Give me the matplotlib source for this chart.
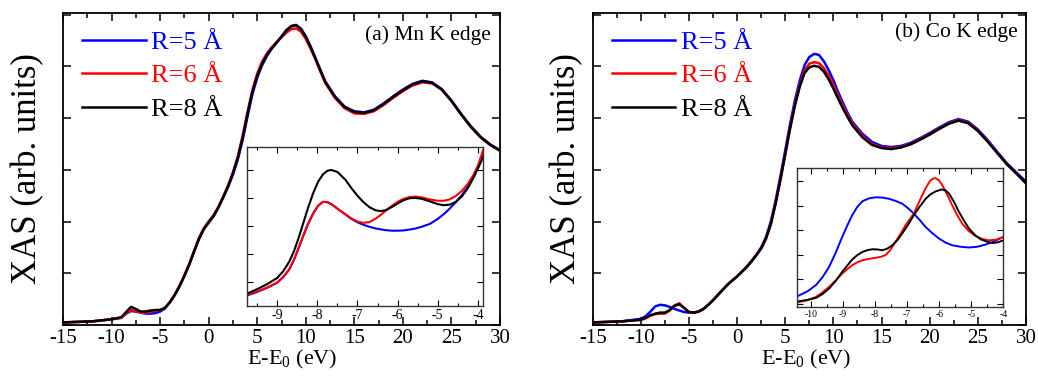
import numpy as np
import matplotlib
matplotlib.use("Agg")
import matplotlib.pyplot as plt
from matplotlib.ticker import MultipleLocator

plt.rcParams["font.family"] = ["Liberation Serif", "DejaVu Serif"]
plt.rcParams["mathtext.default"] = "regular"
plt.rcParams["axes.unicode_minus"] = False

# ---- panel (a) Mn K edge ----
mn_x = [-15, -12, -10, -9, -8.5, -8, -7.5, -7, -6.5, -6, -5.5, -5, -4.5, -4, -3.5, -3,
        -2.5, -2, -1.5, -1, -0.5, 0, 0.5, 1, 1.5, 2, 2.5, 3, 3.5, 4, 4.5, 5, 5.5, 6,
        6.5, 7, 7.5, 8, 8.5, 9, 9.5, 10, 10.5, 11, 11.5, 12, 13, 14, 15, 16, 17, 18,
        19, 20, 21, 22, 23, 24, 25, 26, 27, 28, 29, 30]
mn_r8 = [0.05, 0.07, 0.11, 0.15, 0.25, 0.35, 0.31, 0.26, 0.26, 0.28, 0.29, 0.29, 0.33,
         0.44, 0.58, 0.75, 0.95, 1.17, 1.42, 1.66, 1.85, 1.98, 2.10, 2.27, 2.47, 2.68,
         2.93, 3.23, 3.62, 4.08, 4.50, 4.82, 5.05, 5.22, 5.35, 5.46, 5.57, 5.69, 5.78,
         5.80, 5.72, 5.57, 5.37, 5.15, 4.92, 4.70, 4.41, 4.21, 4.12, 4.10, 4.15, 4.27,
         4.41, 4.54, 4.65, 4.71, 4.68, 4.55, 4.33, 4.07, 3.83, 3.63, 3.48, 3.37]
mn_r6 = [0.05, 0.07, 0.11, 0.14, 0.22, 0.29, 0.27, 0.24, 0.24, 0.25, 0.28, 0.29, 0.33,
         0.44, 0.58, 0.76, 0.96, 1.18, 1.43, 1.67, 1.86, 1.99, 2.11, 2.28, 2.48, 2.70,
         2.95, 3.26, 3.66, 4.12, 4.54, 4.86, 5.09, 5.25, 5.37, 5.47, 5.56, 5.65, 5.72,
         5.73, 5.67, 5.53, 5.34, 5.13, 4.90, 4.68, 4.39, 4.19, 4.09, 4.08, 4.13, 4.25,
         4.39, 4.52, 4.63, 4.69, 4.67, 4.55, 4.33, 4.07, 3.83, 3.63, 3.48, 3.37]
mn_r5 = [0.05, 0.07, 0.11, 0.14, 0.22, 0.27, 0.26, 0.24, 0.22, 0.22, 0.23, 0.26, 0.32,
         0.44, 0.58, 0.75, 0.95, 1.17, 1.43, 1.68, 1.87, 2.00, 2.12, 2.28, 2.47, 2.67,
         2.91, 3.20, 3.58, 4.03, 4.46, 4.78, 5.02, 5.20, 5.34, 5.46, 5.58, 5.70, 5.77,
         5.79, 5.73, 5.58, 5.38, 5.16, 4.93, 4.71, 4.42, 4.22, 4.13, 4.11, 4.16, 4.28,
         4.42, 4.55, 4.66, 4.72, 4.69, 4.56, 4.34, 4.08, 3.84, 3.64, 3.49, 3.38]

# inset (a): pre-edge zoom
mn_ix = [-9.72, -9.5, -9.25, -9.0, -8.85, -8.7, -8.58, -8.47, -8.35, -8.23, -8.1, -7.98,
         -7.86, -7.75, -7.65, -7.5, -7.3, -7.15, -7.0, -6.85, -6.7, -6.55, -6.43, -6.3,
         -6.15, -6.0, -5.85, -5.7, -5.55, -5.4, -5.2, -5.0, -4.85, -4.7, -4.55, -4.4,
         -4.25, -4.1, -4.0, -3.87]
mn_i8 = [0.60, 0.74, 0.92, 1.14, 1.38, 1.72, 2.10, 2.55, 3.10, 3.65, 4.18, 4.58, 4.84,
         4.97, 5.00, 4.93, 4.65, 4.35, 4.08, 3.85, 3.67, 3.56, 3.53, 3.56, 3.67, 3.80,
         3.92, 3.99, 4.00, 3.97, 3.88, 3.78, 3.74, 3.76, 3.86, 4.05, 4.35, 4.75, 5.05,
         5.45]
mn_i6 = [0.55, 0.66, 0.80, 0.98, 1.18, 1.45, 1.80, 2.20, 2.65, 3.08, 3.45, 3.72, 3.86,
         3.85, 3.78, 3.62, 3.42, 3.27, 3.16, 3.11, 3.14, 3.26, 3.38, 3.54, 3.71, 3.86,
         3.97, 4.03, 4.05, 4.02, 3.95, 3.90, 3.90, 3.95, 4.07, 4.25, 4.50, 4.85, 5.15,
         5.71]
mn_i5 = [0.53, 0.64, 0.79, 0.97, 1.17, 1.44, 1.79, 2.19, 2.64, 3.07, 3.45, 3.72, 3.86,
         3.85, 3.78, 3.62, 3.41, 3.25, 3.13, 3.04, 2.97, 2.91, 2.88, 2.85, 2.83, 2.83,
         2.84, 2.87, 2.91, 2.97, 3.07, 3.25, 3.42, 3.62, 3.85, 4.10, 4.40, 4.78, 5.08,
         5.60]

# ---- panel (b) Co K edge ----
co_x = [-15, -12, -10, -9.5, -9, -8.5, -8, -7.5, -7, -6.5, -6, -5.5, -5, -4.5, -4, -3.5,
        -3, -2.5, -2, -1.5, -1, -0.5, 0, 0.5, 1, 1.5, 2, 2.5, 3, 3.5, 4, 4.5, 5, 5.5, 6,
        6.5, 7, 7.5, 8, 8.5, 9, 9.5, 10, 10.5, 11, 11.5, 12, 13, 14, 15, 16, 17, 18, 19,
        20, 21, 22, 23, 24, 25, 26, 27, 28, 29, 30]
co_r5 = [0.05, 0.07, 0.12, 0.17, 0.26, 0.36, 0.39, 0.38, 0.35, 0.31, 0.28, 0.25, 0.24,
         0.24, 0.26, 0.31, 0.39, 0.48, 0.58, 0.68, 0.78, 0.86, 0.94, 1.03, 1.13, 1.24,
         1.36, 1.50, 1.70, 2.00, 2.41, 2.88, 3.38, 3.88, 4.34, 4.72, 5.02, 5.18, 5.24,
         5.22, 5.10, 4.93, 4.73, 4.50, 4.29, 4.09, 3.92, 3.70, 3.54, 3.46, 3.44, 3.46,
         3.52, 3.61, 3.71, 3.82, 3.92, 3.98, 3.93, 3.78, 3.58, 3.35, 3.13, 2.95, 2.77]
co_r6 = [0.05, 0.07, 0.10, 0.13, 0.18, 0.21, 0.22, 0.22, 0.28, 0.38, 0.42, 0.33, 0.25,
         0.24, 0.26, 0.31, 0.39, 0.48, 0.58, 0.68, 0.78, 0.86, 0.94, 1.03, 1.12, 1.23,
         1.35, 1.48, 1.67, 1.95, 2.35, 2.81, 3.30, 3.80, 4.26, 4.64, 4.92, 5.05, 5.08,
         5.06, 4.97, 4.82, 4.64, 4.43, 4.23, 4.05, 3.88, 3.66, 3.50, 3.43, 3.42, 3.44,
         3.50, 3.59, 3.69, 3.80, 3.90, 3.96, 3.91, 3.76, 3.56, 3.33, 3.11, 2.93, 2.74]
co_r8 = [0.05, 0.07, 0.10, 0.14, 0.19, 0.22, 0.24, 0.24, 0.29, 0.37, 0.40, 0.33, 0.25,
         0.24, 0.26, 0.31, 0.39, 0.48, 0.58, 0.68, 0.78, 0.86, 0.94, 1.03, 1.12, 1.23,
         1.35, 1.48, 1.67, 1.95, 2.35, 2.81, 3.30, 3.80, 4.24, 4.60, 4.87, 4.98, 5.01,
         4.99, 4.90, 4.75, 4.57, 4.37, 4.18, 4.01, 3.85, 3.63, 3.48, 3.42, 3.40, 3.43,
         3.49, 3.58, 3.68, 3.79, 3.89, 3.95, 3.90, 3.75, 3.55, 3.33, 3.11, 2.93, 2.74]

# inset (b): pre-edge zoom
co_ix5 = [-10.4, -10.1, -9.84, -9.63, -9.43, -9.22, -9.02, -8.86, -8.71, -8.55, -8.39,
          -8.18, -7.98, -7.77, -7.56, -7.35, -7.15, -6.97, -6.79, -6.6, -6.42, -6.21,
          -6.0, -5.8, -5.59, -5.33, -5.07, -4.81, -4.55, -4.27, -4.0]
co_i5 = [0.33, 0.52, 0.77, 1.10, 1.51, 2.10, 2.73, 3.20, 3.61, 3.95, 4.18, 4.30, 4.34,
         4.33, 4.28, 4.19, 4.08, 3.90, 3.68, 3.41, 3.13, 2.88, 2.66, 2.50, 2.39, 2.33,
         2.30, 2.33, 2.42, 2.56, 2.73]
co_ix6 = [-10.4, -10.1, -9.84, -9.63, -9.43, -9.22, -9.02, -8.86, -8.71, -8.55, -8.39,
          -8.18, -7.98, -7.82, -7.67, -7.52, -7.36, -7.2, -7.05, -6.92, -6.79, -6.66,
          -6.53, -6.4, -6.27, -6.19, -6.11, -6.0, -5.9, -5.75, -5.59, -5.43, -5.28,
          -5.08, -4.87, -4.66, -4.45, -4.22, -4.0]
co_i6 = [0.07, 0.16, 0.29, 0.48, 0.70, 0.96, 1.24, 1.42, 1.58, 1.70, 1.78, 1.84, 1.88,
         1.92, 1.99, 2.20, 2.53, 2.86, 3.20, 3.44, 3.68, 4.05, 4.42, 4.76, 5.03, 5.10,
         5.12, 5.02, 4.83, 4.45, 4.01, 3.60, 3.27, 2.97, 2.77, 2.65, 2.59, 2.62, 2.73]
co_ix8 = [-10.4, -10.1, -9.84, -9.63, -9.43, -9.22, -9.02, -8.86, -8.71, -8.55, -8.39,
          -8.24, -8.08, -7.92, -7.77, -7.62, -7.46, -7.3, -7.15, -6.97, -6.79, -6.6,
          -6.42, -6.27, -6.11, -5.92, -5.8, -5.69, -5.53, -5.38, -5.22, -5.07, -4.88,
          -4.7, -4.52, -4.34, -4.17, -4.0]
co_i8 = [0.11, 0.17, 0.25, 0.41, 0.63, 0.95, 1.31, 1.57, 1.81, 1.99, 2.12, 2.19, 2.23,
         2.22, 2.19, 2.25, 2.39, 2.60, 2.87, 3.22, 3.61, 3.97, 4.28, 4.46, 4.58, 4.66,
         4.62, 4.49, 4.14, 3.74, 3.38, 3.07, 2.80, 2.63, 2.54, 2.48, 2.51, 2.59]

labels = ["R=5 Å", "R=6 Å", "R=8 Å"]
colors = ["#0000ff", "#ff0000", "#000000"]

fig = plt.figure(figsize=(10.38, 3.78), dpi=100)


def style_main(ax):
    ax.set_xlim(-15, 30)
    ax.set_ylim(0, 6.03)
    ax.xaxis.set_major_locator(MultipleLocator(5))
    ax.xaxis.set_minor_locator(MultipleLocator(2.5))
    ax.yaxis.set_major_locator(MultipleLocator(1))
    ax.tick_params(which="both", direction="in", top=True, right=True, width=1.1)
    ax.tick_params(which="major", length=6, labelsize=15, pad=3)
    ax.tick_params(which="minor", length=3.5)
    ax.tick_params(axis="y", labelleft=False)
    for s in ax.spines.values():
        s.set_linewidth(1.3)


def style_inset(ax, xlim, ylim, fs, minor):
    ax.set_xlim(*xlim)
    ax.set_ylim(*ylim)
    ax.xaxis.set_major_locator(MultipleLocator(1))
    ax.xaxis.set_minor_locator(MultipleLocator(minor))
    ax.yaxis.set_major_locator(MultipleLocator(1))
    ax.tick_params(which="both", direction="in", top=True, right=True, width=0.8)
    ax.tick_params(which="major", length=4, labelsize=fs, pad=2)
    ax.tick_params(which="minor", length=2.5)
    ax.tick_params(axis="y", labelleft=False)
    for s in ax.spines.values():
        s.set_linewidth(1.0)
        s.set_color("#333333")


def add_legend(ax):
    ax.legend(loc="upper left", bbox_to_anchor=(0.02, 0.978), frameon=False, fontsize=19,
              handlelength=2.4, handletextpad=0.2, labelspacing=0.38, borderaxespad=0,
              labelcolor="linecolor")


# panel (a)
ax1 = fig.add_axes([0.0607, 0.1402, 0.421, 0.8254])
for y, c, lab in zip([mn_r5, mn_r6, mn_r8], colors, labels):
    ax1.plot(mn_x, y, color=c, lw=1.8, label=lab)
style_main(ax1)
ax1.text(0.98, 0.93, "(a) Mn K edge", transform=ax1.transAxes, ha="right", va="center",
         fontsize=15.5)
add_legend(ax1)

ins1 = fig.add_axes([0.238, 0.1905, 0.2274, 0.4206])
for y, c in zip([mn_i5, mn_i6, mn_i8], colors):
    ins1.plot(mn_ix, y, color=c, lw=1.5)
style_inset(ins1, (-9.75, -3.87), (0.14, 5.82), 10, 0.5)

# panel (b)
ax2 = fig.add_axes([0.571, 0.1402, 0.4174, 0.8254])
for y, c, lab in zip([co_r5, co_r6, co_r8], colors, labels):
    ax2.plot(co_x, y, color=c, lw=1.8, label=lab)
style_main(ax2)
ax2.text(0.98, 0.94, "(b) Co K edge", transform=ax2.transAxes, ha="right", va="center",
         fontsize=15.5)
add_legend(ax2)

ins2 = fig.add_axes([0.7681, 0.1884, 0.1985, 0.3677])
for xx, y, c in zip([co_ix5, co_ix6, co_ix8], [co_i5, co_i6, co_i8], colors):
    ins2.plot(xx, y, color=c, lw=1.4)
style_inset(ins2, (-10.42, -4.0), (-0.11, 5.54), 7, 0.5)

# axis labels
for xc in [28 / 1038, 567 / 1038]:
    fig.text(xc, 0.555, "XAS (arb. units)", rotation=90, ha="center", va="center",
             fontsize=25)
for xc in [292 / 1038, 806 / 1038]:
    fig.text(xc, 14 / 378, "E-E$_0$ (eV)", ha="center", va="baseline", fontsize=16)

fig.savefig("out.png", dpi=100)
